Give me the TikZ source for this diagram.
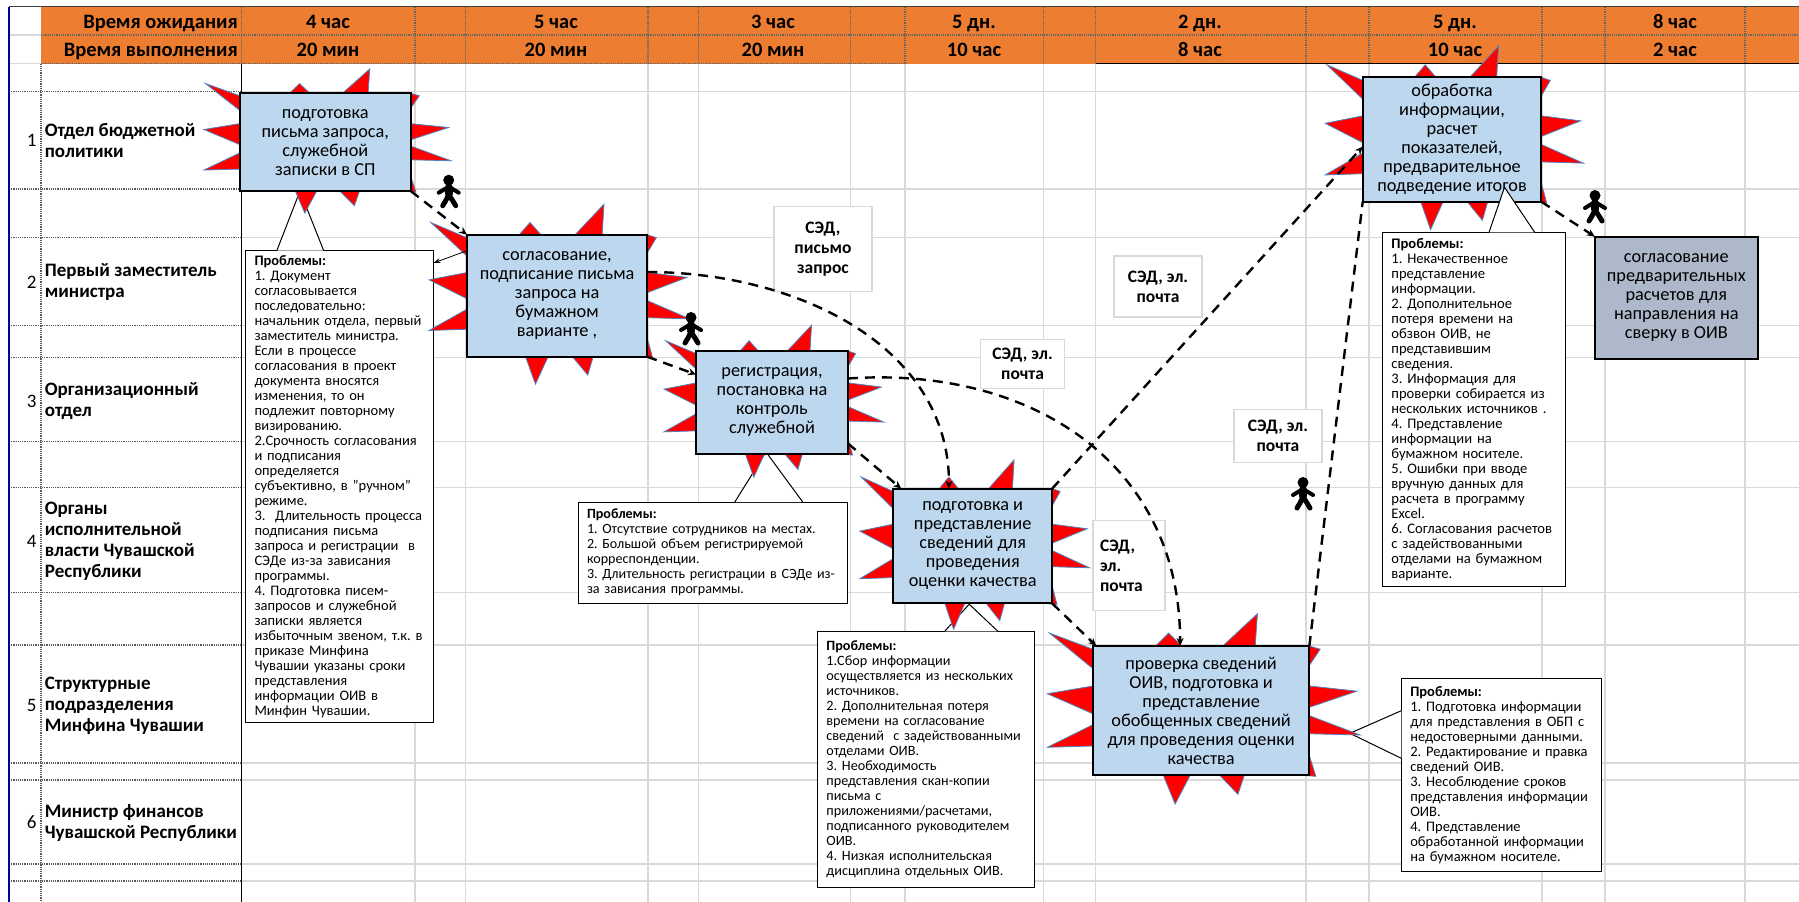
\documentclass[tikz,border=0pt]{standalone}
\usepackage{fontspec}
\setmainfont{Carlito}
\usetikzlibrary{positioning}
\usetikzlibrary{arrows.meta}

\definecolor{headfill}{HTML}{ED7D31}
\definecolor{stepfill}{HTML}{BDD7EE}
\definecolor{stepgrey}{HTML}{ADB9CA}
\definecolor{burstred}{HTML}{FF0000}
\definecolor{burstedge}{HTML}{4F81BD}
\definecolor{gridgrey}{HTML}{D9D9D9}
\definecolor{tableblue}{HTML}{0000A0}

\tikzset{
	gridline/.style = {draw = gridgrey, line width = 1.2pt},
	rowline/.style = {draw = black!65, line width = 1.2pt, densely dotted},
	headline/.style = {draw = black!60, line width = 1.2pt, densely dotted},
	headlabel/.style = {font = \fontsize{20.5}{22}\selectfont\bfseries, inner sep = 0pt, text height = 14pt, text depth = 4pt},
	rowlabel/.style = {font = \fontsize{19}{21}\selectfont\bfseries, align = left, inner sep = 0pt, anchor = west},
	rownum/.style = {font = \fontsize{19}{20}\selectfont, inner sep = 0pt},
	stepbox/.style = {draw = black, line width = 2pt, fill = stepfill, align = center, inner sep = 0pt, outer sep = 0pt, font = \fontsize{18.3}{19}\selectfont\frenchspacing},
	burstline/.style = {draw = burstedge, fill = burstred, line width = 0.8pt, line join = miter},
	problembox/.style = {draw = black, fill = white, line width = 1pt, inner xsep = 9pt, inner ysep = 0pt, outer sep = 0pt, align = left, anchor = north west, font = \fontsize{#1}{15}\selectfont\frenchspacing},
	channel/.style = {draw = gridgrey, fill = white, line width = 1.2pt, inner sep = 0pt, outer sep = 0pt, align = center, font = \fontsize{17.5}{20}\selectfont\bfseries},
	flowline/.style = {draw = black, line width = 2.4pt, dash pattern = on 10pt off 7pt, -{Stealth[length = 8pt, width = 7pt]}},
	noteline/.style = {draw = black, line width = 0.8pt, -{Stealth[length = 7pt, width = 5pt]}},
	walker/.pic = {
		\fill[black] (0,-11.5) circle [radius = 5.5pt];
		\draw[black, line width = 8pt, line cap = round] (0,-4) -- (0,2);
		\draw[black, line width = 4pt, line cap = round, line join = round] (-10,1) -- (0,-5) -- (10,1);
		\draw[black, line width = 5pt, line cap = round, line join = round] (-6,14) -- (-3,9) -- (0,3) -- (4,9) -- (7,14);
	}
}

\newcommand{\procstep}[6]{
	\begin{scope}[shift = {(#2,#3)}, x = 0.5*#4pt, y = -0.5*#5pt]
		\draw[burstline] (-1.40,-1.2) -- (-1,-0.95) -- (-0.42,-1) -- (-0.3,-1.2) -- (-0.18,-1) -- (0.2,-1) -- (0.52,-1.5) -- (0.5,-1) -- (1,-1) -- (1.1,-0.95) -- (1,-0.7) -- (1,-0.38) -- (1.44,-0.3) -- (1,-0.05) -- (1,0.08) -- (1.47,0.38) -- (1,0.36) -- (1,0.7) -- (1.06,1.02) -- (0.9,1) -- (0.4,1) -- (0.34,1.3) -- (0.17,1) -- (-0.1,1) -- (-0.24,1.45) -- (-0.35,1) -- (-1,0.55) -- (-1.42,0.57) -- (-1,0.22) -- (-1,0.05) -- (-1.42,-0.26) -- (-1,-0.38) -- (-1,-0.65) -- cycle;
	\end{scope}
	\node[stepbox, minimum width = #4pt, minimum height = #5pt] (#1) at (#2,#3) {#6};
}
\newcommand{\problemtail}[3]{
	\fill[white] #1 -- #2 -- #3 -- cycle;
	\draw[black, line width = 1pt] #1 -- #2 -- #3;
}

\begin{document}
\begin{tikzpicture}[x = 1pt, y = -1pt]
	\useasboundingbox (0,0) rectangle (1799,902);
	\fill[white] (0,0) rectangle (1799,902);

	% sheet grid
	\path[gridline] (241,91.7) -- (1799,91.7) (241,189) -- (1799,189) (241,237.5) -- (1799,237.5) (241,325.7) -- (1799,325.7) (241,357.7) -- (1799,357.7) (241,441.7) -- (1799,441.7) (241,487.7) -- (1799,487.7) (241,592.7) -- (1799,592.7) (241,645) -- (1799,645) (241,763) -- (1799,763) (241,780) -- (1799,780) (241,864) -- (1799,864) (241,881) -- (1799,881);
	\path[gridline] (415,63) -- (415,902) (465.6,63) -- (465.6,902) (648,63) -- (648,902) (698.6,63) -- (698.6,902) (850.4,63) -- (850.4,902) (905,63) -- (905,902) (1043.6,63) -- (1043.6,902) (1095.5,63) -- (1095.5,902) (1306,63) -- (1306,902) (1369,63) -- (1369,902) (1542,63) -- (1542,902) (1605,63) -- (1605,902) (1745,63) -- (1745,902);

	% header
	\fill[headfill] (41,7) rectangle (1799,63.5);
	\path[gridline] (9,35) -- (41,35) (9,63.5) -- (41,63.5);
	\path[headline] (41,35) -- (1799,35) (41,63.5) -- (906,63.5);
	\draw[black, line width = 1pt] (1095.5,63.5) -- (1799,63.5);
	\path[headline] (241.5,7) -- (241.5,63.5) (415,7) -- (415,63.5) (465.6,7) -- (465.6,63.5) (648,7) -- (648,63.5) (698.6,7) -- (698.6,63.5) (850.4,7) -- (850.4,63.5) (905,7) -- (905,63.5) (1043.6,7) -- (1043.6,63.5) (1095.5,7) -- (1095.5,63.5) (1306,7) -- (1306,63.5) (1369,7) -- (1369,63.5) (1542,7) -- (1542,63.5) (1605,7) -- (1605,63.5) (1745,7) -- (1745,63.5);
	\draw[black!75, line width = 1.2pt] (9,6.5) -- (1799,6.5);

	\node[headlabel, anchor = east] (waitlabel) at (238,23) {Время ожидания};
	\node[headlabel, anchor = east] (worklabel) at (238,51) {Время выполнения};
	\node[headlabel] (waita) at (328,23) {4 час};
	\node[headlabel] (waitb) at (556,23) {5 час};
	\node[headlabel] (waitc) at (773,23) {3 час};
	\node[headlabel] (waitd) at (974,23) {5 дн.};
	\node[headlabel] (waite) at (1200,23) {2 дн.};
	\node[headlabel] (waitf) at (1455,23) {5 дн.};
	\node[headlabel] (waitg) at (1675,23) {8 час};
	\node[headlabel] (worka) at (328,51) {20 мин};
	\node[headlabel] (workb) at (556,51) {20 мин};
	\node[headlabel] (workc) at (773,51) {20 мин};
	\node[headlabel] (workd) at (974,51) {10 час};
	\node[headlabel] (worke) at (1200,51) {8 час};
	\node[headlabel] (workf) at (1455,51) {10 час};
	\node[headlabel] (workg) at (1675,51) {2 час};

	% row table
	\path[rowline] (9,91.7) -- (241,91.7) (9,189) -- (241,189) (9,237.5) -- (241,237.5) (9,325.7) -- (241,325.7) (9,357.7) -- (241,357.7) (9,441.7) -- (241,441.7) (9,487.7) -- (241,487.7) (9,592.7) -- (241,592.7) (9,645) -- (241,645) (9,763) -- (241,763) (9,780) -- (241,780) (9,864) -- (241,864) (9,881) -- (241,881);
	\path[rowline] (41,63.5) -- (41,902);
	\draw[black, line width = 1.2pt] (241.5,63.5) -- (241.5,902);
	\draw[tableblue, line width = 1.4pt] (9,6.5) -- (9,902);

	\node[rowlabel] (rowa) at (44.6,140.5) {Отдел бюджетной \\ политики};
	\node[rowlabel] (rowb) at (44.6,282.5) {Первый заместитель \\ министра};
	\node[rowlabel] (rowc) at (44.6,401) {Организационный \\ отдел};
	\node[rowlabel] (rowd) at (44.6,541) {Органы \\ исполнительной \\ власти Чувашской \\ Республики};
	\node[rowlabel] (rowe) at (44.6,705.5) {Структурные \\ подразделения \\ Минфина Чувашии};
	\node[rowlabel] (rowf) at (44.6,822.5) {Министр финансов \\ Чувашской Республики};
	\node[rownum, left = 8pt of rowa] (numa) {1};
	\node[rownum, left = 8pt of rowb] (numb) {2};
	\node[rownum, left = 8pt of rowc] (numc) {3};
	\node[rownum, left = 8pt of rowd] (numd) {4};
	\node[rownum, left = 8pt of rowe] (nume) {5};
	\node[rownum, left = 8pt of rowf] (numf) {6};

	% problems
	\coordinate (tipa) at (300,191);
	\coordinate (tipc) at (766,452);
	\coordinate (tipd) at (969.2,604.2);
	\coordinate (tipe) at (1349.8,733.3);
	\coordinate (tipf) at (1504.5,187.3);

	\node[problembox = 14.5, text width = 170pt, minimum height = 472pt] (proba) at (245.5,250.7) {\textbf{Проблемы:} \\ 1. Документ \\ согласовывается \\ последовательно: \\ начальник отдела, первый \\ заместитель министра. \\ Если в процессе \\ согласования в проект \\ документа вносятся \\ изменения, то он \\ подлежит повторному \\ визированию. \\ 2.Срочность согласования \\ и подписания \\ определяется \\ субъективно, в "ручном" \\ режиме. \\ 3.~~Длительность процесса \\ подписания письма \\ запроса и регистрации~~в \\ СЭДе из-за зависания \\ программы. \\ 4. Подготовка писем- \\ запросов и служебной \\ записки является \\ избыточным звеном, т.к. в \\ приказе Минфина \\ Чувашии указаны сроки \\ представления \\ информации ОИВ в \\ Минфин Чувашии.};
	\problemtail{([xshift = 31.3pt]proba.north west)}{(tipa)}{([xshift = 78.2pt]proba.north west)}

	\node[problembox = 14.1, text width = 251pt, minimum height = 101.5pt] (probc) at (578,502) {\textbf{Проблемы:} \\ 1. Отсутствие сотрудников на местах. \\ 2. Большой объем регистрируемой \\ корреспонденции. \\ 3. Длительность регистрации в СЭДе из- \\ за зависания программы.};
	\problemtail{([xshift = 156.8pt]probc.north west)}{(tipc)}{([xshift = 224.7pt]probc.north west)}

	\node[problembox = 14.2, text width = 199pt, minimum height = 256pt] (probd) at (817.4,631.4) {\textbf{Проблемы:} \\ 1.Сбор информации \\ осуществляется из нескольких \\ источников. \\ 2. Дополнительная потеря \\ времени на согласование \\ сведений~~с задействованными \\ отделами ОИВ. \\ 3. Необходимость \\ представления скан-копии \\ письма с \\ приложениями/расчетами, \\ подписанного руководителем \\ ОИВ. \\ 4. Низкая исполнительская \\ дисциплина отдельных ОИВ.};
	\problemtail{([xshift = 127.2pt]probd.north west)}{(tipd)}{([xshift = 180.6pt]probd.north west)}

	\node[problembox = 14.5, text width = 181.9pt, minimum height = 192.3pt] (probe) at (1401.3,678.7) {\textbf{Проблемы:} \\ 1. Подготовка информации \\ для представления в ОБП с \\ недостоверными данными. \\ 2. Редактирование и правка \\ сведений ОИВ. \\ 3. Несоблюдение сроков \\ представления информации \\ ОИВ. \\ 4. Представление \\ обработанной информации \\ на бумажном носителе.};
	\problemtail{([yshift = -32pt]probe.north west)}{(tipe)}{([yshift = -79.6pt]probe.north west)}

	\node[problembox = 14.6, text width = 165.4pt, minimum height = 354pt] (probf) at (1382.4,232.3) {\textbf{Проблемы:} \\ 1. Некачественное \\ представление \\ информации. \\ 2. Дополнительное \\ потеря времени на \\ обзвон ОИВ, не \\ представившим \\ сведения. \\ 3. Информация для \\ проверки собирается из \\ нескольких источников . \\ 4. Представление \\ информации на \\ бумажном носителе. \\ 5. Ошибки при вводе \\ вручную данных для \\ расчета в программу \\ Excel. \\ 6. Согласования расчетов \\ с задействованными \\ отделами на бумажном \\ варианте.};

	% process steps
	\procstep{boxa}{325.3}{142.2}{171}{97.7}{подготовка \\ письма запроса, \\ служебной \\ записки в СП}
	\procstep{boxb}{557.1}{295.7}{180.3}{122}{согласование, \\ подписание письма \\ запроса на \\ бумажном \\ варианте ,}
	\procstep{boxc}{772}{402.5}{152}{103}{регистрация, \\ постановка на \\ контроль \\ служебной}
	\procstep{boxd}{972.7}{546}{159}{114.8}{подготовка и \\ представление \\ сведений для \\ проведения \\ оценки качества}
	\procstep{boxe}{1201.1}{710.5}{216.5}{129}{проверка сведений \\ ОИВ, подготовка и \\ представление \\ обобщенных сведений \\ для проведения оценки \\ качества}
	\procstep{boxf}{1452}{139.5}{178.6}{124.4}{обработка \\ информации, \\ расчет \\ показателей, \\ предварительное \\ подведение итогов}
	\node[stepbox, fill = stepgrey, minimum width = 162.8pt, minimum height = 122.6pt] (boxg) at (1676.3,298) {согласование \\ предварительных \\ расчетов для \\ направления на \\ сверку в ОИВ};

	\problemtail{([xshift = 106.6pt]probf.north west)}{(tipf)}{([xshift = 152.3pt]probf.north west)}

	% channels
	\node[channel, minimum width = 98pt, minimum height = 85pt, right = 126.7pt of boxb.east, yshift = 46.7pt] (sedb) {СЭД, \\ письмо \\ запрос};
	\node[channel, minimum width = 88pt, minimum height = 61pt, left = 160.7pt of boxf.west, yshift = -147pt] (sedf) {СЭД, эл. \\ почта};
	\node[channel, minimum width = 83.5pt, minimum height = 49pt, right = 132.8pt of boxc.east, yshift = 38.5pt] (sedc) {СЭД, эл. \\ почта};
	\node[channel, minimum width = 88pt, minimum height = 53.5pt, left = -12.6pt of boxe.east, yshift = 274.5pt] (sede) {СЭД, эл. \\ почта};
	\node[channel, text width = 58pt, inner xsep = 7pt, align = left, minimum height = 90pt, right = 40.8pt of boxd.east, yshift = -19.4pt] (sedd) {СЭД, \\ эл. \\ почта};

	% walkers
	\pic at (448.7,191.7) {walker};
	\pic at (691,329) {walker};
	\pic at (1595,207) {walker};
	\pic at (1303,494) {walker};

	% flow
	\path (boxa.south east) edge[flowline] (boxb.north west);
	\path (boxb.south east) edge[flowline] ([yshift = 28pt]boxc.west);
	\path ([yshift = 10.5pt]boxc.south east) edge[flowline] ([xshift = 8pt]boxd.north west);
	\path (boxd.south east) edge[flowline] ([xshift = 3.5pt]boxe.north west);
	\path ([yshift = 23.7pt]boxb.east) edge[flowline, out = 0, in = 90] ([xshift = -23.7pt]boxd.north);
	\path ([yshift = 24pt]boxc.east) edge[flowline, out = 4, in = 90, looseness = 1.1] ([xshift = -21pt]boxe.north);
	\path (boxd.north east) edge[flowline] ([yshift = -7.2pt]boxf.west);
	\path (boxe.north east) edge[flowline, -] (boxf.south west);
	\path (boxf.south east) edge[flowline] (boxg.north west);
	\path ([yshift = 45pt]boxb.west) edge[noteline] ([yshift = -12.3pt]proba.north east);
\end{tikzpicture}
\end{document}
